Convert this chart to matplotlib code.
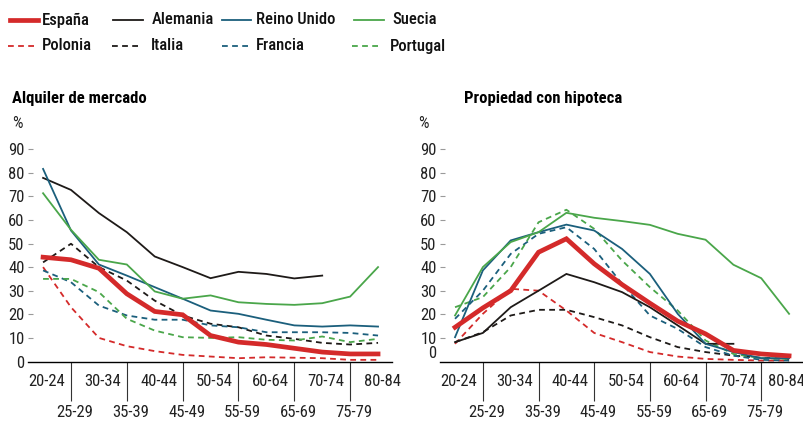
import matplotlib
matplotlib.use("Agg")
import matplotlib.pyplot as plt
from matplotlib import font_manager
from matplotlib.lines import Line2D
from matplotlib.transforms import ScaledTranslation

# narrow face if the system has one, Roboto otherwise
_names = {f.name for f in font_manager.fontManager.ttflist}
FONT = next((f for f in ["Roboto Condensed", "Liberation Sans Narrow", "Roboto"] if f in _names),
            "DejaVu Sans")
plt.rcParams["font.family"] = [FONT, "DejaVu Sans"]
FS = 12

ages = ["20-24", "25-29", "30-34", "35-39", "40-44", "45-49", "50-54",
        "55-59", "60-64", "65-69", "70-74", "75-79", "80-84"]

# --- Alquiler de mercado (%) ---
rent_espana = [44.2, 43.1, 39.5, 28.7, 21.2, 19.8, 11.0, 8.2, 7.2, 5.6, 4.0, 3.2, 3.2]
rent_alemania = [77.8, 72.7, 62.9, 54.8, 44.5, 40.0, 35.3, 38.0, 37.1, 35.2, 36.4]
rent_reino_unido = [81.6, 55.5, 41.1, 36.4, 31.5, 26.6, 21.6, 20.2, 17.7, 15.3, 14.8, 15.3, 14.8]
rent_suecia = [71.3, 55.8, 43.1, 41.1, 29.7, 26.6, 28.0, 25.1, 24.4, 24.0, 24.7, 27.5, 40.0]
rent_polonia = [40.0, 23.0, 10.0, 6.5, 4.4, 2.8, 2.1, 1.4, 1.8, 1.6, 1.4, 0.7, 0.7]
rent_italia = [42.0, 49.9, 40.0, 34.3, 25.8, 19.5, 16.0, 14.5, 11.0, 9.6, 7.9, 7.2, 7.9]
rent_francia = [38.6, 33.6, 23.7, 19.5, 17.7, 17.7, 15.3, 14.5, 12.4, 12.4, 12.4, 12.1, 11.0]
rent_portugal = [35.0, 35.0, 29.4, 18.1, 13.1, 10.3, 10.0, 10.3, 9.2, 8.9, 10.6, 8.2, 9.6]

# --- Propiedad con hipoteca (%) ---
mort_espana = [14.5, 22.7, 30.0, 46.3, 52.0, 41.4, 32.6, 24.7, 17.1, 11.7, 4.7, 3.2, 2.4]
mort_alemania = [8.2, 12.1, 23.0, 30.0, 37.1, 33.6, 29.4, 23.0, 15.3, 7.5, 7.5]
mort_reino_unido = [10.3, 38.6, 51.3, 54.8, 58.0, 55.5, 47.7, 37.1, 20.2, 7.5, 4.0, 1.4, 1.4]
mort_suecia = [19.5, 40.0, 50.6, 54.8, 63.0, 60.9, 59.5, 57.9, 54.1, 51.6, 41.0, 35.3, 20.2]
mort_polonia = [7.5, 20.2, 30.8, 30.0, 21.6, 12.1, 8.2, 4.0, 2.1, 1.1, 0.7, 0.4, 0.4]
mort_italia = [8.2, 12.4, 19.5, 21.9, 21.9, 18.8, 15.3, 10.3, 6.1, 4.0, 2.5, 1.6, 1.1]
mort_francia = [18.1, 30.0, 45.6, 54.1, 56.9, 47.7, 32.9, 19.5, 13.8, 6.1, 2.5, 0.7, 0.4]
mort_portugal = [23.0, 27.3, 40.0, 59.0, 64.3, 56.2, 42.8, 31.5, 21.6, 8.9, 3.2, 1.4, 1.1]

RED = "#d42a2a"
BLACK = "#1e1a18"
BLUE = "#1b5f7c"
GREEN = "#4aa64a"
DASH = (0, (3.2, 2.4))

# (name, color, linestyle, width, rent, mortgage)
series = [
    ("Polonia", RED, DASH, 1.3, rent_polonia, mort_polonia),
    ("Italia", BLACK, DASH, 1.3, rent_italia, mort_italia),
    ("Francia", BLUE, DASH, 1.3, rent_francia, mort_francia),
    ("Portugal", GREEN, DASH, 1.3, rent_portugal, mort_portugal),
    ("Alemania", BLACK, "-", 1.3, rent_alemania, mort_alemania),
    ("Reino Unido", BLUE, "-", 1.3, rent_reino_unido, mort_reino_unido),
    ("Suecia", GREEN, "-", 1.3, rent_suecia, mort_suecia),
    ("España", RED, "-", 3.4, rent_espana, mort_espana),
]

fig = plt.figure(figsize=(8.04, 4.21), dpi=100)
W, H = 804, 421


def px_axes(x0, x1, ybot, ytop):
    return fig.add_axes([x0 / W, 1 - ybot / H, (x1 - x0) / W, (ybot - ytop) / H])


def shift_px(dx, dy=0):
    return ScaledTranslation(dx / 100, dy / 100, fig.dpi_scale_trans)


ax_rent = px_axes(28, 392, 361.5, 125.5)
ax_mort = px_axes(440, 803, 361.5, 125.5)

for k, ax in enumerate([ax_rent, ax_mort]):
    for name, color, ls, lw, rent, mort in series:
        vals = rent if k == 0 else mort
        ax.plot(range(len(vals)), vals, color=color, ls=ls, lw=lw,
                solid_joinstyle="miter", clip_on=False, zorder=3 if name == "España" else 2)

    ax.set_xlim(-0.54, 12.5)
    ax.set_ylim(0, 100)
    for s in ["left", "top", "right"]:
        ax.spines[s].set_visible(False)
    ax.spines["bottom"].set_linewidth(1.0)
    ax.spines["bottom"].set_color("black")

    # y ticks: short grey dashes, labels on the left
    ax.set_yticks(range(0, 100, 10))
    ax.tick_params(axis="y", direction="in", length=3.5, width=0.8, color="#9a9a9a",
                   pad=2.5, labelsize=FS, labelcolor="#222222")
    ax.yaxis.get_major_ticks()[0].tick1line.set_visible(False)
    if k == 1:
        lab0 = ax.yaxis.get_major_ticks()[0].label1
        lab0.set_transform(lab0.get_transform() + shift_px(0, 10))

    # x ticks: labels alternate on two rows, long separators for the lower row
    ax.set_xticks(range(0, 13, 2), ages[0::2])
    ax.set_xticks(range(1, 13, 2), ages[1::2], minor=True)
    ax.tick_params(axis="x", which="major", length=0, pad=9, labelsize=FS,
                   labelcolor="#222222")
    ax.tick_params(axis="x", which="minor", length=28, width=0.8, color="#333333",
                   pad=3, labelsize=FS, labelcolor="#222222")
    labs = ax.get_xticklabels() + ax.get_xticklabels(minor=True)
    for lab in labs:
        lab.set_transform(lab.get_transform() + shift_px(4))
    if k == 1:
        last = ax.get_xticklabels()[-1]
        last.set_transform(last.get_transform() + shift_px(-7))

# titles and % units
fig.text(12 / W, 1 - 98 / H, "Alquiler de mercado", fontsize=FS, fontweight="bold",
         va="center", ha="left")
fig.text(464 / W, 1 - 98 / H, "Propiedad con hipoteca", fontsize=FS, fontweight="bold",
         va="center", ha="left")
fig.text(12 / W, 1 - 124 / H, "%", fontsize=FS, va="center", ha="left", color="#222222")
fig.text(418 / W, 1 - 124 / H, "%", fontsize=FS, va="center", ha="left", color="#222222")

# legend, laid out by hand to follow the reference spacing
legend_order = ["España", "Alemania", "Reino Unido", "Suecia",
                "Polonia", "Italia", "Francia", "Portugal"]
legend_pos = {
    "España": (10, 38, 42, 20), "Alemania": (113, 143, 152, 20),
    "Reino Unido": (222, 251, 256, 20), "Suecia": (354, 384, 392, 20),
    "Polonia": (8, 38, 42, 46), "Italia": (112, 142, 151, 46),
    "Francia": (222, 252, 256, 46), "Portugal": (352, 382, 390, 46),
}
style = {s[0]: s for s in series}
for name in legend_order:
    _, color, ls, lw, _, _ = style[name]
    x0, x1, xt, y = legend_pos[name]
    fig.add_artist(Line2D([x0 / W, x1 / W], [1 - y / H, 1 - y / H], color=color, ls=ls,
                          lw=lw, transform=fig.transFigure))
    fig.text(xt / W, 1 - y / H, name, fontsize=FS, fontweight="medium", va="center",
             ha="left", color="#111111")

fig.savefig("out.png", dpi=100)
